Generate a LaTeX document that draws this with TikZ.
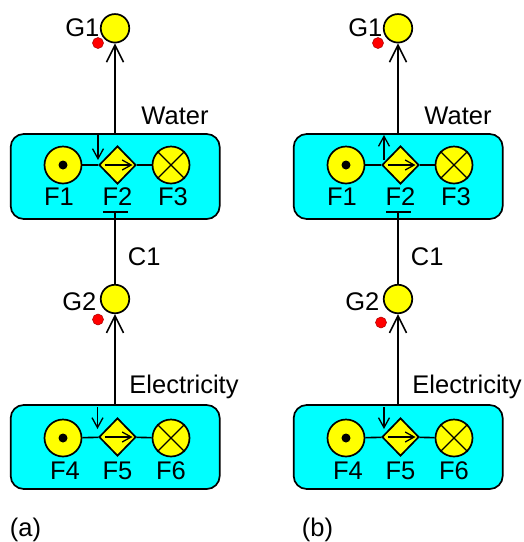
\documentclass[tikz,border=0pt]{standalone}
\usepackage{fontspec}
\setmainfont{Liberation Sans}
\usetikzlibrary{shapes.geometric,arrows.meta}
\definecolor{boxcyan}{RGB}{0,255,255}
\definecolor{symyellow}{RGB}{255,255,0}
\definecolor{dotred}{RGB}{255,0,0}
\tikzset{
  txt/.style={inner sep=0pt, anchor=base, font=\fontsize{25.5}{30}\selectfont},
  lw/.style={line width=1.7pt},
  funcbox/.style={draw, lw, fill=boxcyan, rounded corners=13pt, minimum width=209pt, minimum height=85pt, inner sep=0pt},
  fcirc/.style={circle, draw, lw, fill=symyellow, minimum size=37pt, inner sep=0pt},
  fdiam/.style={diamond, draw, lw, fill=symyellow, minimum width=37pt, minimum height=38pt, inner sep=0pt},
  gcirc/.style={circle, draw, lw, fill=symyellow, minimum size=28.5pt, inner sep=0pt},
  reddot/.style={circle, draw=red!65!black, line width=0.5pt, fill=dotred, minimum size=11pt, inner sep=0pt},
  blackdot/.style={circle, fill=black, minimum size=9pt, inner sep=0pt},
  conn/.style={line width=1.6pt},
  bigarrow/.style={line width=1.6pt, -{Straight Barb[length=17pt,width=17pt]}},
  smallarrow/.style={line width=1.3pt, -{Straight Barb[length=10pt,width=11pt]}},
  innerarrow/.style={line width=1.3pt, -{Straight Barb[length=9pt,width=10pt]}},
}
\newcommand\drawpanel[1]{%
  % upper function box (Water)
  \node[funcbox] (#1W) at (115.2,176.5) {};
  \node[fcirc] (#1F1) at (63,165) {};
  \node[fdiam] (#1F2) at (117.5,165) {};
  \node[fcirc] (#1F3) at (171,165) {};
  \node[blackdot] (#1F1d) at (#1F1) {};
  \draw[line width=1.3pt] (#1F3.north west) -- (#1F3.south east);
  \draw[line width=1.3pt] (#1F3.north east) -- (#1F3.south west);
  \draw[conn] (#1F1) -- (#1F2);
  \draw[conn] (#1F2) -- (#1F3);
  \draw[innerarrow] ([xshift=-13pt]#1F2.center) -- ([xshift=15pt]#1F2.center);
  \node[txt] (#1L1) at (59,205) {F1};
  \node[txt] (#1L2) at (117.5,205) {F2};
  \node[txt] (#1L3) at (173,205) {F3};
  % lower function box (Electricity)
  \node[funcbox, minimum height=84pt] (#1E) at (115.2,447) {};
  \node[fcirc] (#1F4) at (63,438) {};
  \node[fdiam] (#1F5) at (117.5,437) {};
  \node[fcirc] (#1F6) at (171,438) {};
  \node[blackdot] (#1F4d) at (#1F4) {};
  \draw[line width=1.3pt] (#1F6.north west) -- (#1F6.south east);
  \draw[line width=1.3pt] (#1F6.north east) -- (#1F6.south west);
  \draw[conn] (#1F4) -- (#1F5);
  \draw[conn] (#1F5) -- (#1F6);
  \draw[innerarrow] ([xshift=-13pt]#1F5.center) -- ([xshift=15pt]#1F5.center);
  \node[txt] (#1L4) at (65,479) {F4};
  \node[txt] (#1L5) at (117.5,479) {F5};
  \node[txt] (#1L6) at (171,479) {F6};
  % goals
  \node[gcirc] (#1G1) at (115,28.3) {};
  \node[gcirc] (#1G2) at (115,299) {};
  \node[txt, anchor=base east] (#1G1t) at (99.5,36.7) {G1};
  \node[txt, anchor=base east] (#1G2t) at (96.5,310) {G2};
  \node[txt] (#1Wt) at (175,124) {Water};
  \node[txt] (#1Et) at (184,393.3) {Electricity};
  \node[txt] (#1Ct) at (144.2,265) {C1};
  % connectors
  \draw[bigarrow] (#1G1 |- #1W.north) -- (#1G1);
  \draw[bigarrow] (#1G2 |- #1E.north) -- (#1G2);
  \coordinate (#1barL) at (103,211.7);
  \coordinate (#1barR) at (128,211.7);
  \draw[conn] (#1barL) -- (#1barR);
  \draw[conn] (#1G2 |- #1barL) -- (#1G2);
}
\begin{document}
\begin{tikzpicture}[x=1pt,y=-1pt]
\useasboundingbox (0,0) rectangle (524,542);
% panel (a)
\begin{scope}
  \drawpanel{a}
  \node[reddot] (aR1) at (98,43) {};
  \node[reddot] (aR2) at (98,319.5) {};
  \coordinate (aS1) at (98,135);
  \coordinate (aS2) at (98,160);
  \draw[smallarrow] (aS1) -- (aS2);
  \coordinate (aS3) at (97.5,407);
  \coordinate (aS4) at (97.5,429);
  \draw[smallarrow] (aS3) -- (aS4);
  \node[txt] (acap) at (25.5,536) {(a)};
\end{scope}
% panel (b)
\begin{scope}[xshift=283pt]
  \drawpanel{b}
  \node[reddot] (bR1) at (95,43) {};
  \node[reddot] (bR2) at (98,322.5) {};
  \coordinate (bS1) at (101,160);
  \coordinate (bS2) at (101,135);
  \draw[smallarrow] (bS1) -- (bS2);
  \coordinate (bS3) at (101,407);
  \coordinate (bS4) at (101,429);
  \draw[smallarrow] (bS3) -- (bS4);
  \node[txt] (bcap) at (34.5,536) {(b)};
\end{scope}
\end{tikzpicture}
\end{document}
